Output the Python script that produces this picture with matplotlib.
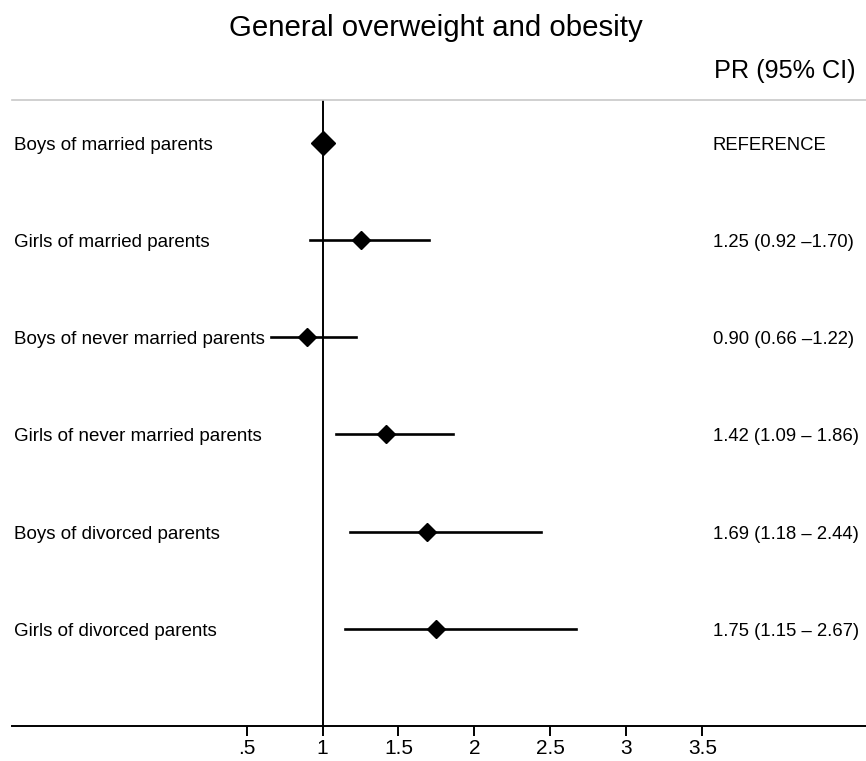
import matplotlib
matplotlib.use('Agg')
import matplotlib.pyplot as plt
import matplotlib.transforms as mtransforms

# forest plot data (top row first)
groups = ['Boys of married parents', 'Girls of married parents',
          'Boys of never married parents', 'Girls of never married parents',
          'Boys of divorced parents', 'Girls of divorced parents']
pr = [1.00, 1.25, 0.90, 1.42, 1.69, 1.75]
ci_low = [None, 0.92, 0.66, 1.09, 1.18, 1.15]
ci_high = [None, 1.70, 1.22, 1.86, 2.44, 2.67]
pr_text = ['REFERENCE', '1.25 (0.92 \u20131.70)', '0.90 (0.66 \u20131.22)',
           '1.42 (1.09 \u2013 1.86)', '1.69 (1.18 \u2013 2.44)', '1.75 (1.15 \u2013 2.67)']
xticks = [0.5, 1, 1.5, 2, 2.5, 3, 3.5]
xtick_labels = ['.5', '1', '1.5', '2', '2.5', '3', '3.5']

plt.rcParams['font.family'] = ['Liberation Sans', 'DejaVu Sans']

W, H = 866, 761
fig = plt.figure(figsize=(W / 100, H / 100), dpi=100)
ax = fig.add_axes([12 / W, 35 / H, 854 / W, 626 / H])

n = len(groups)
ys = list(range(n, 0, -1))

ax.axvline(1, color='black', lw=1.4, zorder=1)

for y, p, lo, hi in zip(ys, pr, ci_low, ci_high):
    if lo is None:
        ax.plot(p, y, marker='D', ms=12.5, color='black', zorder=3)
    else:
        ax.plot([lo, hi], [y, y], color='black', lw=1.9, zorder=2)
        ax.plot(p, y, marker='D', ms=8.8, color='black', zorder=3)

ax.set_xlim(-1.043, 4.576)
ax.set_ylim(0, 6.44)

ax.spines['left'].set_visible(False)
ax.spines['right'].set_visible(False)
ax.spines['top'].set_color('#c8c8c8')
ax.spines['top'].set_linewidth(1.2)
ax.spines['bottom'].set_linewidth(1.4)

ax.set_yticks([])
ax.set_xticks(xticks)
ax.set_xticklabels(xtick_labels, fontsize=15)
ax.tick_params(axis='x', length=7, width=1.4, pad=2)

# row labels and PR text
trans = mtransforms.blended_transform_factory(fig.transFigure, ax.transData)
for y, g, t in zip(ys, groups, pr_text):
    ax.text(14 / W, y - 0.025, g, transform=trans, fontsize=13.5, va='center', ha='left')
    ax.text(713 / W, y - 0.025, t, transform=trans, fontsize=13.3, va='center', ha='left')

fig.text(435.5 / W, 1 - 28 / H, 'General overweight and obesity', fontsize=21.2,
         ha='center', va='center')
fig.text(856 / W, 1 - 71 / H, 'PR (95% CI)', fontsize=18.2, ha='right', va='center')

fig.savefig('out.png', dpi=100)
